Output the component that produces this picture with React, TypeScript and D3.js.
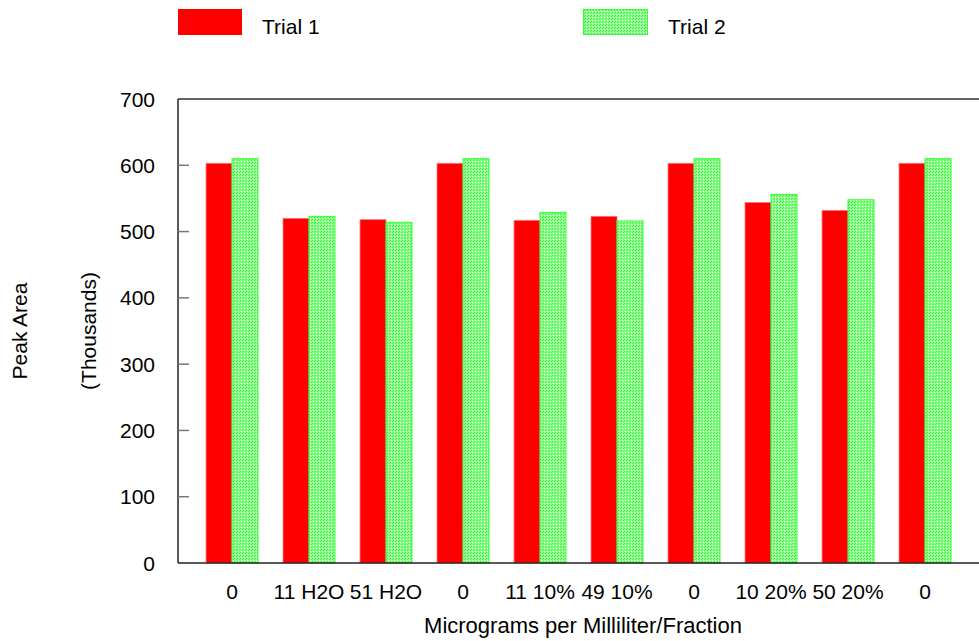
import React from "react";
import * as d3 from "d3";

const categories = ["0", "11 H2O", "51 H2O", "0", "11 10%", "49 10%", "0", "10 20%", "50 20%", "0"];
const trial1 = [603, 520, 518, 603, 517, 523, 603, 544, 532, 603];
const trial2 = [610, 523, 514, 610, 529, 516, 610, 556, 548, 610];
const seriesNames = ["Trial 1", "Trial 2"];
const yTicks = [0, 100, 200, 300, 400, 500, 600, 700];

const W = 979;
const H = 641;
const left = 178;
const top = 99;
const bottom = 563;
const font = "'Liberation Sans', Arial, sans-serif";

export default function App() {
  const ids = categories.map((_, i) => String(i));
  const x = d3
    .scaleBand<string>()
    .domain(ids)
    .range([193.5, 963.5])
    .paddingInner(0.325)
    .paddingOuter(0.1625);
  const y = d3.scaleLinear().domain([0, 700]).range([bottom, top]);
  const bw = x.bandwidth() / 2;

  return (
    <svg
      width={W}
      height={H}
      style={{ position: "absolute", left: 0, top: 0, background: "#fff" }}
      fontFamily={font}
    >
      <defs>
        <pattern id="greenPat" width="3" height="3" patternUnits="userSpaceOnUse">
          <rect width="3" height="3" fill="#90ff90" />
          <rect x="0" y="0" width="1" height="1" fill="#33ee33" />
          <rect x="2" y="1" width="1" height="1" fill="#40f040" />
          <rect x="1" y="2" width="1" height="1" fill="#e8ffe8" />
        </pattern>
      </defs>

      {/* legend */}
      <rect x={178} y={9} width={64} height={26} fill="#ff0000" />
      <text x={262} y={34} fontSize={21} fill="#000">{seriesNames[0]}</text>
      <rect x={583.5} y={9.5} width={64} height={25} fill="url(#greenPat)" stroke="#33ff33" strokeWidth={1} />
      <text x={668} y={34} fontSize={21} fill="#000">{seriesNames[1]}</text>

      {/* frame */}
      <line x1={left} x2={W} y1={top} y2={top} stroke="#666" strokeWidth={2} />

      {/* bars */}
      {ids.map((id, i) => {
        const x0 = x(id)!;
        return (
          <g key={id}>
            <rect
              x={x0}
              y={y(trial1[i])}
              width={bw}
              height={bottom - y(trial1[i])}
              fill="#ff0000"
              stroke="#ff7a7a"
              strokeWidth={0.8}
            />
            <rect
              x={x0 + bw}
              y={y(trial2[i])}
              width={bw}
              height={bottom - y(trial2[i])}
              fill="url(#greenPat)"
              stroke="#33ff33"
              strokeWidth={1}
            />
          </g>
        );
      })}

      {/* y axis */}
      <line x1={left} x2={left} y1={top} y2={bottom} stroke="#222" strokeWidth={1.5} />
      {yTicks.map((t) => (
        <g key={t}>
          {t > 0 && t < 700 && (
            <line x1={left} x2={left + 11} y1={y(t)} y2={y(t)} stroke="#777" strokeWidth={1.5} />
          )}
          <text x={155} y={y(t)} dy="0.36em" textAnchor="end" fontSize={21} fill="#000">
            {t}
          </text>
        </g>
      ))}
      <line x1={left} x2={W} y1={bottom} y2={bottom} stroke="#222" strokeWidth={1.5} />

      {/* x labels */}
      {ids.map((id, i) => (
        <text
          key={id}
          x={x(id)! + x.bandwidth() / 2}
          y={599}
          textAnchor="middle"
          fontSize={21}
          fill="#000"
        >
          {categories[i]}
        </text>
      ))}

      {/* titles */}
      <text x={583} y={633} textAnchor="middle" fontSize={22} fill="#000">
        Micrograms per Milliliter/Fraction
      </text>
      <text
        transform={`translate(27, 331) rotate(-90)`}
        textAnchor="middle"
        fontSize={21}
        fill="#000"
      >
        Peak Area
      </text>
      <text
        transform={`translate(96, 331) rotate(-90)`}
        textAnchor="middle"
        fontSize={21}
        fill="#000"
      >
        (Thousands)
      </text>
    </svg>
  );
}
